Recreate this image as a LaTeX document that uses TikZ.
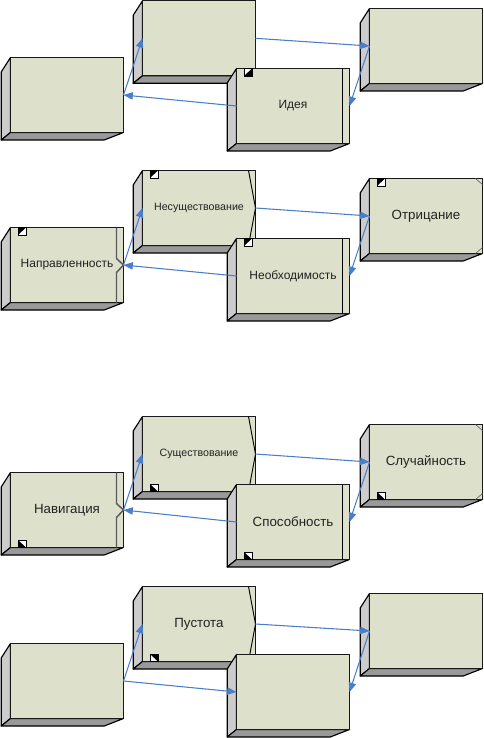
\documentclass[tikz,border=0pt]{standalone}
\usepackage{fontspec}
\setmainfont{Liberation Sans}
\usetikzlibrary{arrows.meta}
\definecolor{frontc}{HTML}{DDE0CB}
\definecolor{sidec}{HTML}{CCCCCC}
\definecolor{botc}{HTML}{999999}
\definecolor{linkc}{HTML}{4A7EC8}
\definecolor{txtc}{HTML}{222222}
\tikzset{
  x=0.75pt,y=-0.75pt,
  front/.style={draw=black!90,line width=1.05pt,fill=frontc,minimum width=84.75pt,minimum height=56.25pt,inner sep=0pt,outer sep=0pt,text=txtc,font=\fontsize{10}{11}\selectfont},
  midtxt/.style={font=\fontsize{9}{10}\selectfont},
  smalltxt/.style={font=\fontsize{8}{9}\selectfont},
  sidef/.style={draw=black,line width=0.85pt,fill=sidec,line join=round},
  botf/.style={draw=black,line width=0.85pt,fill=botc,line join=round},
  link/.style={draw=linkc,line width=0.8pt,-{Triangle[length=7pt,width=5.5pt]}},
  barline/.style={draw=black,line width=0.7pt},
  navbar/.style={draw=black!65,line width=1.1pt},
  cornerline/.style={draw=black!60,line width=0.5pt},
  markbox/.style={draw=black,line width=0.6pt,fill=white},
}
% name, x, y, text, text style
\newcommand{\blk}[5]{%
  \path[sidef] (#2,#3) -- (#2-9.3,#3+14.5) -- (#2-9.3,#3+82.5) -- (#2,#3+75) -- cycle;
  \path[botf] (#2,#3+75) -- (#2-9.3,#3+82.5) -- (#2+93.7,#3+82.5) -- (#2+113,#3+75) -- cycle;
  \node[front,#5] (#1) at (#2+56.5,#3+37.5) {\raisebox{-1pt}{#4}};
}
\newcommand{\mkbx}[2]{\path[markbox] (#1+7.5,#2) rectangle (#1+15.5,#2+7.5);}
% top marks
\newcommand{\mktop}[2]{\mkbx{#1}{#2}\fill[black] (#1+7.5,#2) -- (#1+15.5,#2) -- (#1+7.5,#2+7.5) -- cycle;}
\newcommand{\mktopalt}[2]{\mkbx{#1}{#2}\fill[black] (#1+15.5,#2) -- (#1+15.5,#2+7.5) -- (#1+7.5,#2+7.5) -- cycle;}
% bottom marks
\newcommand{\mkbot}[2]{\mkbx{#1}{#2+67.5}\fill[black] (#1+7.5,#2+67.5) -- (#1+15.5,#2+75) -- (#1+7.5,#2+75) -- cycle;}
\newcommand{\mkbotalt}[2]{\mkbx{#1}{#2+67.5}\fill[black] (#1+7.5,#2+67.5) -- (#1+15.5,#2+67.5) -- (#1+15.5,#2+75) -- cycle;}
\newcommand{\barD}[2]{\draw[barline] (#1+106,#2) -- (#1+106,#2+75);}
\newcommand{\chevB}[2]{\draw[barline] (#1+106,#2) -- (#1+113,#2+37.5) -- (#1+106,#2+75);}
\newcommand{\chevA}[2]{\draw[navbar] (#1+106,#2) -- (#1+106,#2+31) -- (#1+113,#2+37.5) -- (#1+106,#2+45) -- (#1+106,#2+75);}
\newcommand{\corn}[2]{\draw[cornerline] (#1+106,#2) -- (#1+113,#2+6) (#1+106,#2+75) -- (#1+113,#2+69);}
\begin{document}
\begin{tikzpicture}
\useasboundingbox (0,0) rectangle (483,738);
% row 1
\blk{a1}{10.5}{57.5}{}{}
\blk{b1}{142.5}{0.8}{}{}
\blk{c1}{369.5}{8.5}{}{}
\blk{d1}{236.5}{68.5}{Идея}{midtxt}
\barD{236.5}{68.5}\mktopalt{236.5}{68.5}
\draw[link] (a1.east) -- (b1.west);
\draw[link] (d1.west) -- (a1.east);
\draw[link] (b1.east) -- (c1.west);
\draw[link] (c1.west) -- (d1.east);
% row 2
\blk{a2}{10.5}{227.5}{Направленность}{midtxt}
\chevA{10.5}{227.5}\mktop{10.5}{227.5}
\blk{b2}{142.5}{170.5}{Несуществование}{smalltxt}
\chevB{142.5}{170.5}\mktop{142.5}{170.5}
\blk{c2}{369.5}{178.5}{Отрицание}{}
\corn{369.5}{178.5}\mktop{369.5}{178.5}
\blk{d2}{236.5}{238.5}{Необходимость}{midtxt}
\barD{236.5}{238.5}\mktop{236.5}{238.5}
\draw[link] (a2.east) -- (b2.west);
\draw[link] (d2.west) -- (a2.east);
\draw[link] (b2.east) -- (c2.west);
\draw[link] (c2.west) -- (d2.east);
% row 3
\blk{a3}{10.5}{472.5}{Навигация}{}
\chevA{10.5}{472.5}\mkbot{10.5}{472.5}
\blk{b3}{142.5}{416.5}{Существование}{smalltxt}
\chevB{142.5}{416.5}\mkbot{142.5}{416.5}
\blk{c3}{369.5}{424.5}{Случайность}{}
\corn{369.5}{424.5}\mkbot{369.5}{424.5}
\blk{d3}{236.5}{484.5}{Способность}{}
\barD{236.5}{484.5}\mkbot{236.5}{484.5}
\draw[link] (a3.east) -- (b3.west);
\draw[link] (d3.west) -- (a3.east);
\draw[link] (b3.east) -- (c3.west);
\draw[link] (c3.west) -- (d3.east);
% row 4
\blk{a4}{10.5}{643.5}{}{}
\blk{b4}{142.5}{586.5}{Пустота}{}
\chevB{142.5}{586.5}\mkbotalt{142.5}{586.5}
\blk{c4}{369.5}{593.5}{}{}
\blk{d4}{236.5}{654.5}{}{}
\draw[link] (a4.east) -- (b4.west);
\draw[link] (a4.east) -- (d4.west);
\draw[link] (b4.east) -- (c4.west);
\draw[link] (c4.west) -- (d4.east);
\end{tikzpicture}
\end{document}
